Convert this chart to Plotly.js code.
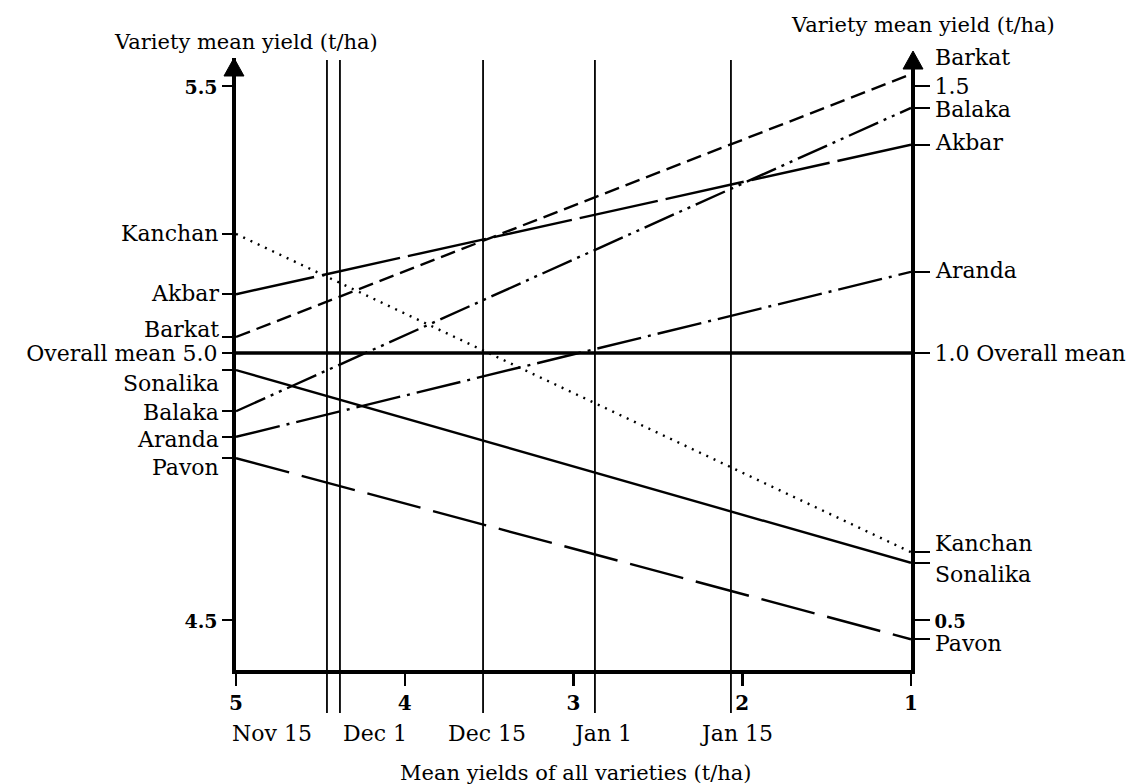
<!DOCTYPE html>
<html><head><meta charset="utf-8">
<script src="https://cdn.plot.ly/plotly-3.0.1.min.js"></script>
<style>html,body{margin:0;padding:0;background:#fff;}</style>
</head><body>
<div id="chart" style="width:1140px;height:784px;"></div>
<script>
// ---- data ----
const varieties = ['Barkat','Balaka','Akbar','Aranda','Kanchan','Sonalika','Pavon'];
// variety yield when the mean of all varieties is 5 t/ha (left axis)
const yieldAtMean5 = [5.030, 4.891, 5.110, 4.843, 5.223, 4.968, 4.803];
// variety yield when the mean of all varieties is 1 t/ha (right axis)
const yieldAtMean1 = [1.522, 1.459, 1.390, 1.152, 0.627, 0.607, 0.464];
const overallMeans = [5, 1];
const xTickVals = [5, 4, 3, 2, 1];
const leftTickVals = [5.5, 5.0, 4.5];
const leftTickText = ['5.5', 'Overall mean 5.0', '4.5'];
const rightTickVals = [1.5, 1.0, 0.5];
const rightTickText = ['1.5', '1.0 Overall mean', '0.5'];
const sowingLineX = [4.461, 4.384, 3.536, 2.873, 2.067];
const dateLabels = ['Nov 15', 'Dec 1', 'Dec 15', 'Jan 1', 'Jan 15'];
const dateLabelX = [4.787, 4.176, 3.513, 2.831, 2.037];

// ---- styles ----
const FONT = 'DejaVu Serif';
const dashes = {
  Barkat: '15px,7px',
  Akbar: '80px,8px',
  Balaka: '32px,6px,3px,6px,3px,6px',
  Aranda: '45px,7px,3px,7px',
  Kanchan: '2px,6px',
  Sonalika: 'solid',
  Pavon: '55px,13px'
};
const leftShift = {Kanchan:0, Akbar:1, Barkat:7, Sonalika:-13, Balaka:-1, Aranda:-3, Pavon:-9};
const rightShift = {Barkat:17, Balaka:-2, Akbar:2, Aranda:1, Kanchan:9, Sonalika:-12, Pavon:-4};

const offset = overallMeans[0] - overallMeans[1]; // right axis is left axis shifted by this
const yRange = [4.4064, 5.5524];
const y2Range = [yRange[0] - offset, yRange[1] - offset];

const traces = [];
traces.push({
  x: overallMeans, y: [overallMeans[0], overallMeans[0]], mode: 'lines',
  line: {color: '#000', width: 3.5}, hoverinfo: 'skip', showlegend: false
});
varieties.forEach((v, i) => {
  traces.push({
    x: overallMeans, y: [yieldAtMean5[i], yieldAtMean1[i] + offset], mode: 'lines', name: v,
    line: {color: '#000', width: 2.4, dash: dashes[v]}, showlegend: false
  });
});
// invisible trace to activate the right axis
traces.push({x: [overallMeans[1]], y: [overallMeans[1]], yaxis: 'y2', mode: 'markers',
  marker: {opacity: 0}, hoverinfo: 'skip', showlegend: false});

const lTickVals = leftTickVals.concat(yieldAtMean5);
const lTickText = leftTickText.map((t, i) => i === 1 ? t : '<span style="font-size:19px"><b>' + t + '</b></span>')
  .concat(varieties.map(() => ''));
const rVarIdx = varieties.map((v, i) => i).filter(i => varieties[i] !== 'Barkat');
const rTickVals = rightTickVals.concat(rVarIdx.map(i => yieldAtMean1[i]));
const rTickText = rightTickText.map((t, i) => i === 2 ? '<span style="font-size:18px"><b>' + t + '</b></span>' : t)
  .concat(rVarIdx.map(() => ''));

const annotations = [];
varieties.forEach((v, i) => {
  annotations.push({xref: 'paper', yref: 'y', x: 0, y: yieldAtMean5[i], text: v, showarrow: false,
    xanchor: 'right', yanchor: 'middle', xshift: -15, yshift: leftShift[v],
    font: {family: FONT, size: 22, color: '#000'}});
  annotations.push({xref: 'paper', yref: 'y2', x: 1, y: yieldAtMean1[i], text: v, showarrow: false,
    xanchor: 'left', yanchor: 'middle', xshift: 22, yshift: rightShift[v],
    font: {family: FONT, size: 22, color: '#000'}});
});
dateLabels.forEach((d, i) => {
  annotations.push({xref: 'x', yref: 'paper', x: dateLabelX[i], y: -0.103, text: d, showarrow: false,
    xanchor: 'center', yanchor: 'middle', font: {family: FONT, size: 22, color: '#000'}});
});
annotations.push({xref: 'paper', yref: 'paper', x: 0.504, y: -0.168, text: 'Mean yields of all varieties (t/ha)',
  showarrow: false, xanchor: 'center', yanchor: 'middle', font: {family: FONT, size: 21, color: '#000'}});
annotations.push({xref: 'paper', yref: 'paper', x: 0.015, y: 1.026, text: 'Variety mean yield (t/ha)',
  showarrow: false, xanchor: 'center', yanchor: 'middle', font: {family: FONT, size: 21, color: '#000'}});
annotations.push({xref: 'paper', yref: 'paper', x: 1.018, y: 1.054, text: 'Variety mean yield (t/ha)',
  showarrow: false, xanchor: 'center', yanchor: 'middle', font: {family: FONT, size: 21, color: '#000'}});

const shapes = sowingLineX.map(x => ({type: 'line', xref: 'x', yref: 'paper', x0: x, x1: x,
  y0: -0.0703, y1: 0.9967, line: {color: '#000', width: 1.8}}));
shapes.push({type: 'path', xref: 'paper', yref: 'paper',
  path: 'M -0.003 1.0 L -0.0178 0.9706 L 0.0118 0.9706 Z', fillcolor: '#000', line: {color: '#000', width: 1}});
shapes.push({type: 'path', xref: 'paper', yref: 'paper',
  path: 'M 1.003 1.0114 L 0.9882 0.982 L 1.0178 0.982 Z', fillcolor: '#000', line: {color: '#000', width: 1}});

const layout = {
  width: 1140, height: 784,
  margin: {l: 236, r: 229, t: 58, b: 114},
  paper_bgcolor: '#fff', plot_bgcolor: '#fff',
  font: {family: FONT, color: '#000'},
  showlegend: false,
  xaxis: {range: [overallMeans[0], overallMeans[1]], tickvals: xTickVals,
    ticktext: xTickVals.map(v => '<b>' + v + '</b>'),
    ticks: 'outside', ticklen: 12, tickwidth: 2.5, tickcolor: '#000',
    tickfont: {family: FONT, size: 20, color: '#000'},
    showline: true, linewidth: 4, linecolor: '#000', showgrid: false, zeroline: false},
  yaxis: {range: yRange, tickvals: lTickVals, ticktext: lTickText, tickmode: 'array',
    ticks: 'outside', ticklen: 10, tickwidth: 2, tickcolor: '#000',
    tickfont: {family: FONT, size: 22, color: '#000'},
    showline: true, linewidth: 4, linecolor: '#000', showgrid: false, zeroline: false},
  yaxis2: {range: y2Range, overlaying: 'y', side: 'right', tickvals: rTickVals, ticktext: rTickText, tickmode: 'array',
    ticks: 'outside', ticklen: 15, tickwidth: 2, tickcolor: '#000',
    tickfont: {family: FONT, size: 22, color: '#000'},
    showline: true, linewidth: 4, linecolor: '#000', showgrid: false, zeroline: false},
  annotations: annotations,
  shapes: shapes
};
Plotly.newPlot('chart', traces, layout, {displayModeBar: false, staticPlot: true});
</script>
</body></html>
